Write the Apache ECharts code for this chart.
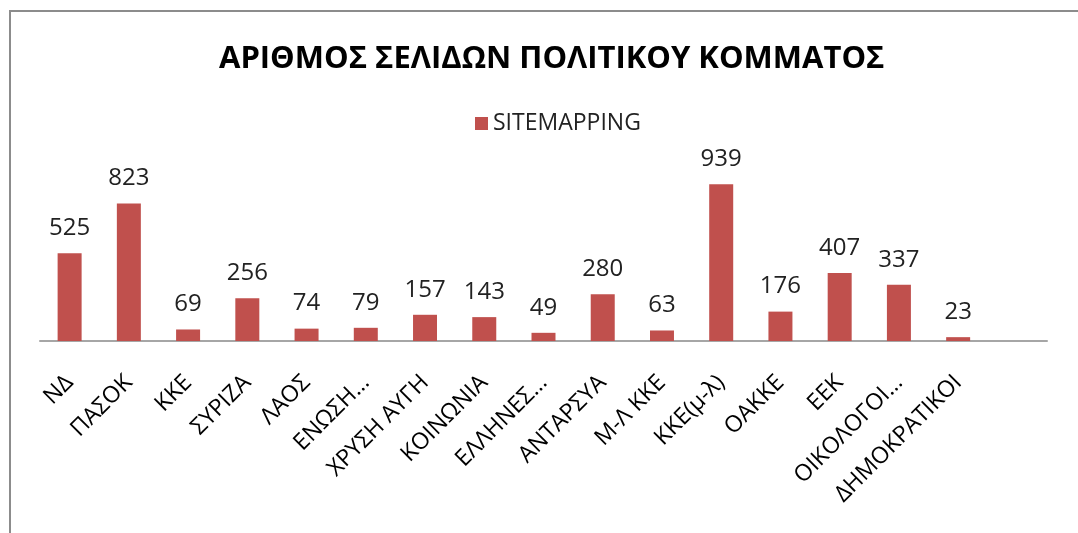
<!DOCTYPE html>
<html>
<head>
<meta charset="utf-8">
<script src="https://cdn.jsdelivr.net/npm/echarts@6/dist/echarts.min.js"></script>
<style>
  html, body { margin: 0; padding: 0; background: #fff; }
  #chart { width: 1078px; height: 533px; }
</style>
</head>
<body>
<div id="chart"></div>
<script>
// the source chart has one trailing empty category
var parties = ['ΝΔ', 'ΠΑΣΟΚ', 'ΚΚΕ', 'ΣΥΡΙΖΑ', 'ΛΑΟΣ', 'ΕΝΩΣΗ…', 'ΧΡΥΣΗ ΑΥΓΗ', 'ΚΟΙΝΩΝΙΑ',
    'ΕΛΛΗΝΕΣ…', 'ΑΝΤΑΡΣΥΑ', 'Μ-Λ ΚΚΕ', 'ΚΚΕ(μ-λ)', 'ΟΑΚΚΕ', 'ΕΕΚ', 'ΟΙΚΟΛΟΓΟΙ…', 'ΔΗΜΟΚΡΑΤΙΚΟΙ', ''];
var sitemapping = [525, 823, 69, 256, 74, 79, 157, 143, 49, 280, 63, 939, 176, 407, 337, 23, null];

var font = '"Open Sans", "Noto Sans", sans-serif';

var myChart = echarts.init(document.getElementById('chart'));
var option = {
    animation: false,
    graphic: [{
        type: 'rect',
        shape: { x: 10, y: 11, width: 1200, height: 700 },
        style: { fill: null, stroke: '#8c8c8c', lineWidth: 2 },
        silent: true
    }],
    title: {
        text: 'ΑΡΙΘΜΟΣ ΣΕΛΙΔΩΝ ΠΟΛΙΤΙΚΟΥ ΚΟΜΜΑΤΟΣ',
        left: 214,
        top: 39,
        textStyle: { fontFamily: font, fontSize: 31, fontWeight: 'bold', color: '#000' }
    },
    legend: {
        top: 107,
        left: 470,
        itemWidth: 13,
        itemHeight: 13,
        itemGap: 8,
        icon: 'rect',
        textStyle: { fontFamily: font, fontSize: 23, color: '#222' },
        data: ['SITEMAPPING']
    },
    grid: { left: 40, right: 31, top: 174, bottom: 192 },
    xAxis: {
        type: 'category',
        data: parties,
        axisLine: { lineStyle: { color: '#a6a6a6', width: 2 } },
        axisTick: { show: false },
        axisLabel: {
            interval: 0,
            rotate: 45,
            margin: 38,
            fontFamily: font,
            fontSize: 23,
            color: '#000'
        }
    },
    yAxis: {
        type: 'value',
        min: 0,
        max: 1000,
        show: false
    },
    series: [{
        name: 'SITEMAPPING',
        type: 'bar',
        data: sitemapping,
        barWidth: 24,
        itemStyle: { color: '#c0504d' },
        label: {
            show: true,
            position: 'top',
            distance: 13,
            fontFamily: font,
            fontSize: 24,
            color: '#222'
        }
    }]
};
myChart.setOption(option);
</script>
</body>
</html>
